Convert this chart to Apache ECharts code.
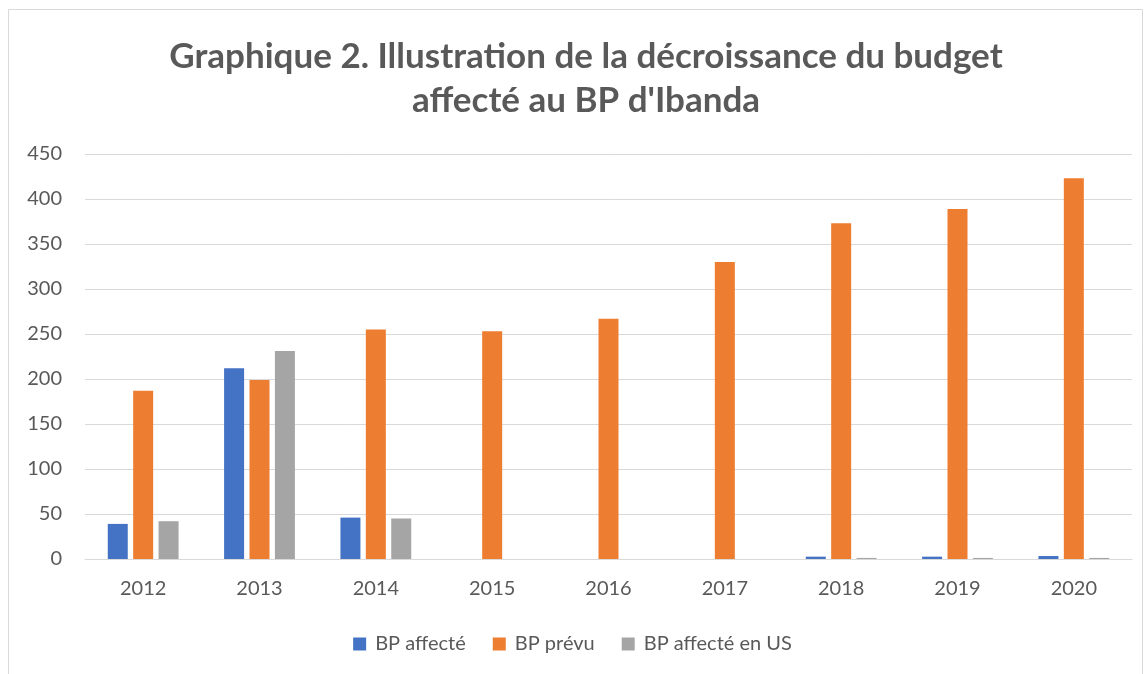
<!DOCTYPE html>
<html>
<head>
<meta charset="utf-8">
<script src="https://cdn.jsdelivr.net/npm/echarts@6/dist/echarts.min.js"></script>
<style>
  html, body { margin: 0; padding: 0; background: #fff; }
  #main { width: 1145px; height: 674px; }
</style>
</head>
<body>
<div id="main"></div>
<script>
// data
var years = ["2012", "2013", "2014", "2015", "2016", "2017", "2018", "2019", "2020"];
var bpAffecte = [39, 212, 46, 0, 0, 0, 2.6, 2.6, 3.3];
var bpPrevu = [187, 199, 255, 253, 267, 330, 373, 389, 423];
var bpAffecteUS = [42, 231, 45, 0, 0, 0, 1.2, 1.2, 1.2];

var textColor = "#595959";
var font = "Lato";

var myChart = echarts.init(document.getElementById("main"));

var option = {
  backgroundColor: "#fff",
  animation: false,
  title: {
    text: "Graphique 2. Illustration de la décroissance du budget\naffecté au BP d'Ibanda",
    left: 581,
    textAlign: "center",
    top: 30,
    textStyle: {
      fontFamily: font,
      fontWeight: "bold",
      fontSize: 35,
      lineHeight: 44,
      color: textColor,
    },
  },
  graphic: [
    {
      type: "rect",
      shape: { x: 8.5, y: 9.5, width: 1134, height: 700 },
      style: { fill: "none", stroke: "#d9d9d9", lineWidth: 1 },
      silent: true,
    },
  ],
  legend: {
    bottom: 15,
    left: "center",
    itemWidth: 13,
    itemHeight: 13,
    itemGap: 27,
    icon: "rect",
    textStyle: {
      fontFamily: font,
      fontSize: 20,
      color: textColor,
      padding: [0, 0, 0, 4],
    },
  },
  grid: {
    left: 85,
    right: 13,
    top: 154,
    bottom: 115,
  },
  xAxis: {
    type: "category",
    data: years,
    axisLine: { lineStyle: { color: "#d9d9d9", width: 1 } },
    axisTick: { show: false },
    axisLabel: {
      fontFamily: font,
      fontSize: 20,
      color: textColor,
      margin: 20,
    },
  },
  yAxis: {
    type: "value",
    min: 0,
    max: 450,
    interval: 50,
    axisLine: { show: false },
    axisTick: { show: false },
    splitLine: { lineStyle: { color: "#d9d9d9", width: 1 } },
    axisLabel: {
      fontFamily: font,
      fontSize: 20,
      color: textColor,
      margin: 23,
    },
  },
  series: [
    {
      name: "BP affecté",
      type: "bar",
      data: bpAffecte,
      barWidth: 20,
      barGap: "27%",
      itemStyle: { color: "#4472C4" },
    },
    {
      name: "BP prévu",
      type: "bar",
      data: bpPrevu,
      barWidth: 20,
      barGap: "27%",
      itemStyle: { color: "#ED7D31" },
    },
    {
      name: "BP affecté en US",
      type: "bar",
      data: bpAffecteUS,
      barWidth: 20,
      barGap: "27%",
      itemStyle: { color: "#A5A5A5" },
    },
  ],
};

myChart.setOption(option);
</script>
</body>
</html>
